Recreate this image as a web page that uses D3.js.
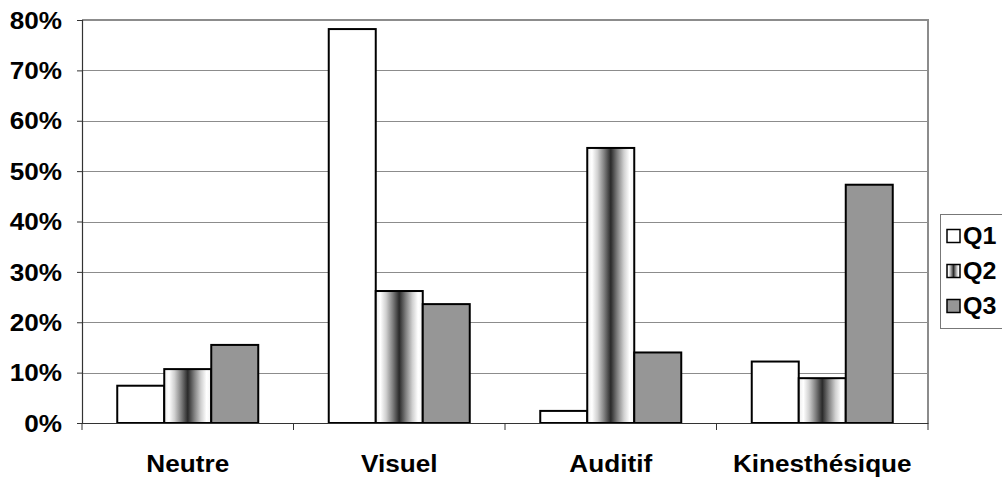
<!DOCTYPE html>
<html>
<head>
<meta charset="utf-8">
<script src="https://cdn.jsdelivr.net/npm/d3@7"></script>
<style>
  html, body { margin: 0; padding: 0; background: #fff; }
  svg { display: block; }
  text { font-family: "Liberation Sans", Arial, sans-serif; font-weight: bold; fill: #000; }
</style>
</head>
<body>
<svg id="chart" width="1002" height="479"></svg>
<script>
// Share of answers per sensory category, for each question
const categories = ["Neutre", "Visuel", "Auditif", "Kinesthésique"];
const seriesNames = ["Q1", "Q2", "Q3"];
const q1 = [0.074, 0.782, 0.024, 0.122];
const q2 = [0.107, 0.262, 0.546, 0.089];
const q3 = [0.155, 0.236, 0.140, 0.473];
const yTicks = [0, 0.1, 0.2, 0.3, 0.4, 0.5, 0.6, 0.7, 0.8];

const seriesValues = [q1, q2, q3];

const svg = d3.select("#chart");
const plot = { left: 82, right: 928, top: 20, bottom: 423 };
const STRETCH = 1.09;

const defs = svg.append("defs");
const grad = defs.append("linearGradient")
  .attr("id", "q2fill").attr("x1", "0").attr("x2", "1").attr("y1", "0").attr("y2", "0");
[[0, "#ececec"], [0.1, "#ffffff"], [0.22, "#d0d0d0"], [0.36, "#808080"], [0.5, "#2a2a2a"],
 [0.64, "#808080"], [0.78, "#d0d0d0"], [0.9, "#ffffff"], [1, "#f4f4f4"]]
  .forEach(([o, c]) => grad.append("stop").attr("offset", o).attr("stop-color", c));

const fills = ["#ffffff", "url(#q2fill)", "#969696"];

const y = d3.scaleLinear().domain([0, 0.8]).range([plot.bottom, plot.top]);
const x0 = d3.scaleBand().domain(categories).range([plot.left, plot.right]).paddingInner(0).paddingOuter(0);
const x1 = d3.scaleBand().domain(seriesNames).range([0, x0.bandwidth()]).paddingInner(0).paddingOuter(0.75);

// Gridlines
svg.append("g").selectAll("line")
  .data(yTicks.filter(t => t > 0 && t < 0.8))
  .join("line")
  .attr("x1", plot.left).attr("x2", plot.right)
  .attr("y1", d => Math.round(y(d)) + 0.5).attr("y2", d => Math.round(y(d)) + 0.5)
  .attr("stroke", "#8c8c8c").attr("stroke-width", 1);

// Plot frame (top and right)
svg.append("path")
  .attr("d", `M${plot.left},${plot.top} H${plot.right} V${plot.bottom}`)
  .attr("fill", "none").attr("stroke", "#8c8c8c").attr("stroke-width", 2);

// Bars
const groups = svg.append("g").selectAll("g")
  .data(categories)
  .join("g")
  .attr("transform", d => `translate(${x0(d)},0)`);

groups.selectAll("rect")
  .data((c, i) => seriesNames.map((s, k) => ({ s, k, v: seriesValues[k][i] })))
  .join("rect")
  .attr("x", d => x1(d.s))
  .attr("width", x1.bandwidth())
  .attr("y", d => y(d.v))
  .attr("height", d => y(0) - y(d.v))
  .attr("fill", d => fills[d.k])
  .attr("stroke", "#000").attr("stroke-width", 2);

// Y axis
const yAxis = d3.axisLeft(y).tickValues(yTicks).tickSize(5).tickFormat("");
const gy = svg.append("g").attr("transform", `translate(${plot.left},0)`).call(yAxis);
gy.select(".domain").attr("stroke", "#333").attr("stroke-width", 1.2);
gy.selectAll(".tick line").attr("stroke", "#333");

svg.append("g").selectAll("text")
  .data(yTicks)
  .join("text")
  .attr("transform", d => `translate(62,${y(d)}) scale(${STRETCH},1)`)
  .attr("text-anchor", "end")
  .attr("dy", "0.36em")
  .attr("font-size", 24)
  .text(d3.format(".0%"));

// X axis
const xAxis = d3.axisBottom(x0).tickSize(0).tickFormat("");
const gx = svg.append("g").attr("transform", `translate(0,${plot.bottom})`).call(xAxis);
gx.select(".domain").attr("stroke", "#333").attr("stroke-width", 1.2);

svg.append("g").selectAll("line")
  .data(d3.range(categories.length + 1))
  .join("line")
  .attr("x1", i => plot.left + i * x0.step()).attr("x2", i => plot.left + i * x0.step())
  .attr("y1", plot.bottom).attr("y2", plot.bottom + 7)
  .attr("stroke", "#333").attr("stroke-width", 1);

svg.append("g").selectAll("text")
  .data(categories)
  .join("text")
  .attr("transform", d => `translate(${x0(d) + x0.bandwidth() / 2},472) scale(${STRETCH},1)`)
  .attr("text-anchor", "middle")
  .attr("font-size", 24)
  .text(d => d);

// Legend
const legend = svg.append("g");
legend.append("rect")
  .attr("x", 940.5).attr("y", 214.5).attr("width", 80).attr("height", 114)
  .attr("fill", "#fff").attr("stroke", "#777").attr("stroke-width", 1);

const items = legend.selectAll("g.item")
  .data(seriesNames)
  .join("g").attr("class", "item")
  .attr("transform", (d, i) => `translate(0,${236 + i * 35})`);

items.append("rect")
  .attr("x", 947).attr("y", -6.5).attr("width", 13).attr("height", 13)
  .attr("fill", (d, i) => fills[i])
  .attr("stroke", "#000").attr("stroke-width", 1.5);

items.append("text")
  .attr("transform", `translate(963,0) scale(${STRETCH},1)`)
  .attr("dy", "0.36em")
  .attr("font-size", 23)
  .text(d => d);
</script>
</body>
</html>
